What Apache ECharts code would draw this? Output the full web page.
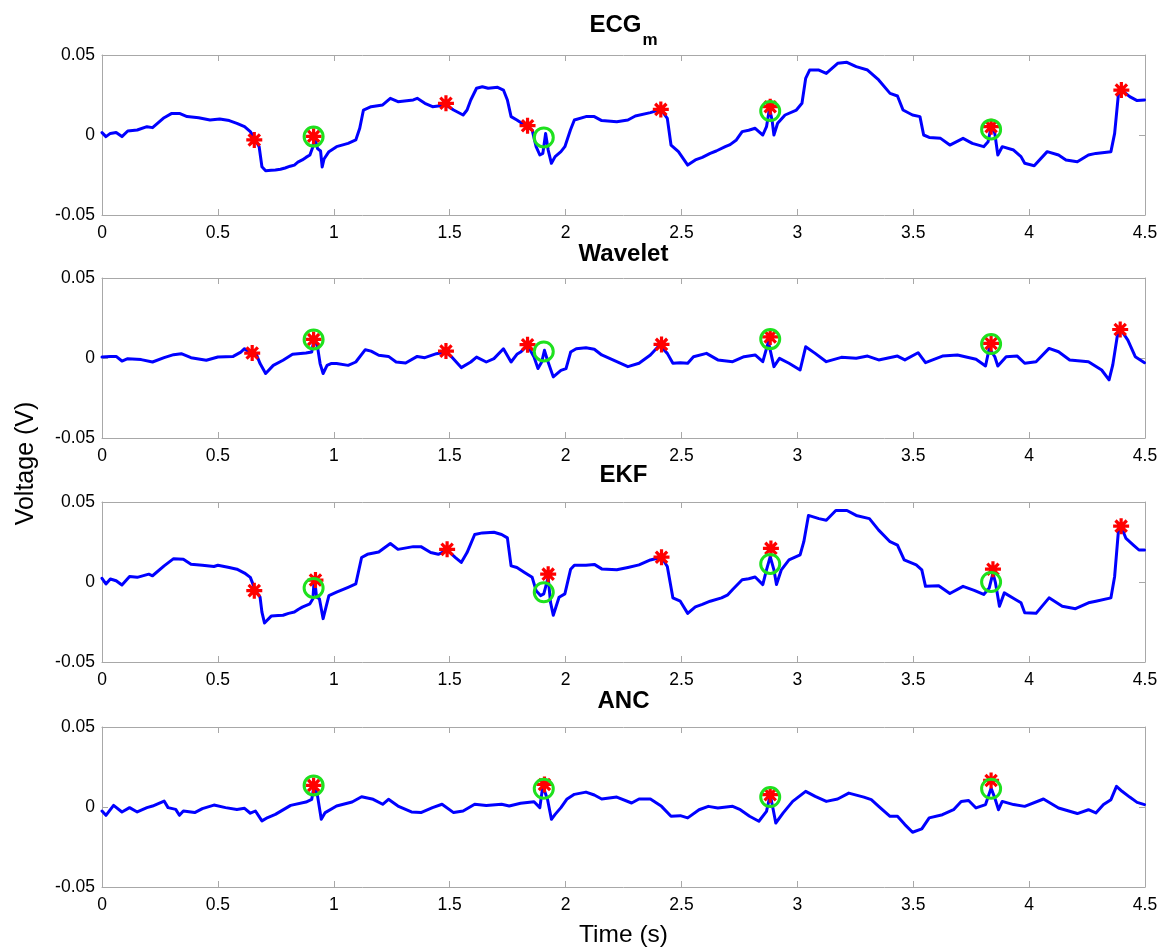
<!DOCTYPE html>
<html>
<head>
<meta charset="utf-8">
<title>ECG QRS detection comparison</title>
<script src="https://cdn.jsdelivr.net/npm/echarts@6.0.0/dist/echarts.min.js"></script>
<style>
  html, body { margin: 0; padding: 0; background: #ffffff; }
  #chart { width: 1167px; height: 948px; }
</style>
</head>
<body>
<div id="chart"></div>
<script>
// ---- Data: [time (s), voltage (V)] ----
const ecgSignal = [
  [0.000,0.0015],[0.017,-0.0010],[0.036,0.0010],[0.061,0.0015],[0.086,-0.0010],[0.111,0.0025],
  [0.152,0.0031],[0.194,0.0052],[0.218,0.0046],[0.268,0.0108],[0.301,0.0135],[0.334,0.0135],
  [0.367,0.0115],[0.417,0.0108],[0.466,0.0094],[0.508,0.0100],[0.549,0.0090],[0.582,0.0073],
  [0.615,0.0052],[0.640,0.0021],[0.662,-0.0031],[0.678,-0.0073],[0.690,-0.0198],[0.706,-0.0223],
  [0.730,-0.0221],[0.748,-0.0219],[0.770,-0.0214],[0.790,-0.0206],[0.797,-0.0208],[0.812,-0.0195],
  [0.830,-0.0188],[0.845,-0.0170],[0.864,-0.0156],[0.880,-0.0140],[0.897,-0.0125],[0.910,-0.0073],
  [0.916,-0.0006],[0.930,-0.0085],[0.943,-0.0100],[0.950,-0.0200],[0.958,-0.0150],[0.979,-0.0104],
  [1.012,-0.0073],[1.062,-0.0052],[1.095,-0.0031],[1.112,0.0042],[1.128,0.0156],[1.161,0.0177],
  [1.211,0.0188],[1.244,0.0229],[1.277,0.0208],[1.343,0.0219],[1.360,0.0229],[1.393,0.0198],
  [1.426,0.0177],[1.484,0.0188],[1.517,0.0156],[1.558,0.0125],[1.575,0.0156],[1.591,0.0219],
  [1.616,0.0292],[1.641,0.0302],[1.666,0.0292],[1.707,0.0298],[1.732,0.0281],[1.749,0.0219],
  [1.765,0.0115],[1.790,0.0094],[1.823,0.0063],[1.856,0.0031],[1.873,-0.0073],[1.889,-0.0125],
  [1.902,-0.0115],[1.914,0.0010],[1.925,-0.0094],[1.939,-0.0177],[1.955,-0.0135],[1.980,-0.0104],
  [1.997,-0.0073],[2.021,0.0031],[2.038,0.0094],[2.088,0.0115],[2.124,0.0115],[2.156,0.0090],
  [2.221,0.0083],[2.269,0.0094],[2.301,0.0119],[2.366,0.0140],[2.411,0.0160],[2.439,0.0104],
  [2.455,-0.0063],[2.487,-0.0104],[2.527,-0.0188],[2.560,-0.0156],[2.590,-0.0140],[2.624,-0.0115],
  [2.650,-0.0100],[2.689,-0.0073],[2.710,-0.0060],[2.737,-0.0031],[2.762,0.0021],[2.790,0.0030],
  [2.818,0.0042],[2.835,0.0020],[2.851,0.0000],[2.867,0.0052],[2.880,0.0167],
  [2.891,0.0094],[2.899,0.0000],[2.915,0.0073],[2.947,0.0125],[2.996,0.0156],[3.020,0.0198],
  [3.036,0.0354],[3.053,0.0406],[3.093,0.0406],[3.125,0.0385],[3.174,0.0448],[3.214,0.0454],
  [3.254,0.0427],[3.303,0.0406],[3.351,0.0344],[3.400,0.0260],[3.432,0.0244],[3.456,0.0156],
  [3.497,0.0125],[3.529,0.0115],[3.545,0.0000],[3.569,-0.0015],[3.618,-0.0021],[3.658,-0.0063],
  [3.715,-0.0021],[3.755,-0.0052],[3.804,-0.0073],[3.823,-0.0042],[3.836,0.0052],[3.852,0.0010],
  [3.865,-0.0125],[3.884,-0.0073],[3.933,-0.0094],[3.965,-0.0135],[3.981,-0.0177],[4.022,-0.0192],
  [4.078,-0.0104],[4.127,-0.0125],[4.159,-0.0156],[4.208,-0.0167],[4.256,-0.0125],[4.288,-0.0115],
  [4.353,-0.0104],[4.369,0.0010],[4.385,0.0250],[4.398,0.0281],[4.434,0.0240],[4.466,0.0215],
  [4.498,0.0219]
];
const ecgStars   = [[0.657,-0.0031],[0.913,-0.0008],[1.484,0.0198],[1.836,0.0058],[2.411,0.0160],[2.883,0.0177],[3.836,0.0052],[4.398,0.0281]];
const ecgCircles = [[0.913,-0.0010],[1.906,-0.0015],[2.883,0.0150],[3.836,0.0035]];

const waveletSignal = [
  [0.000,0.0006],[0.036,0.0010],[0.061,0.0010],[0.086,-0.0019],[0.111,-0.0004],[0.169,-0.0010],
  [0.218,-0.0025],[0.268,0.0002],[0.309,0.0021],[0.342,0.0027],[0.384,0.0002],[0.450,-0.0014],
  [0.500,0.0006],[0.566,0.0010],[0.599,0.0037],[0.615,0.0058],[0.640,0.0031],[0.665,0.0027],
  [0.682,-0.0035],[0.706,-0.0097],[0.739,-0.0046],[0.781,-0.0014],[0.822,0.0023],[0.880,0.0031],
  [0.905,0.0037],[0.916,0.0130],[0.930,0.0068],[0.941,-0.0035],[0.954,-0.0097],[0.971,-0.0046],
  [0.988,-0.0035],[1.012,-0.0035],[1.062,-0.0046],[1.095,-0.0025],[1.136,0.0052],[1.161,0.0043],
  [1.194,0.0017],[1.236,0.0010],[1.269,-0.0025],[1.310,-0.0031],[1.360,0.0010],[1.393,0.0002],
  [1.443,0.0027],[1.484,0.0037],[1.509,0.0006],[1.550,-0.0060],[1.591,-0.0025],[1.616,0.0006],
  [1.658,-0.0025],[1.691,-0.0004],[1.732,0.0058],[1.765,-0.0025],[1.790,0.0023],[1.806,0.0037],
  [1.836,0.0079],[1.864,0.0006],[1.881,-0.0066],[1.897,-0.0025],[1.909,0.0048],[1.922,-0.0014],
  [1.947,-0.0118],[1.980,-0.0077],[2.002,-0.0066],[2.022,0.0037],[2.046,0.0058],[2.088,0.0064],
  [2.124,0.0055],[2.156,0.0019],[2.221,-0.0023],[2.269,-0.0054],[2.317,-0.0033],[2.366,0.0019],
  [2.406,0.0081],[2.439,0.0029],[2.463,-0.0033],[2.495,-0.0029],[2.527,-0.0033],[2.552,0.0008],
  [2.608,0.0029],[2.657,-0.0012],[2.721,-0.0023],[2.770,0.0008],[2.818,0.0019],[2.851,-0.0023],
  [2.875,0.0101],[2.899,-0.0054],[2.923,-0.0002],[2.964,-0.0033],[3.012,-0.0075],[3.036,0.0070],
  [3.077,0.0029],[3.125,-0.0023],[3.190,0.0004],[3.254,-0.0002],[3.303,0.0012],[3.351,-0.0012],
  [3.432,0.0012],[3.464,-0.0012],[3.521,0.0033],[3.553,-0.0029],[3.626,0.0012],[3.691,0.0019],
  [3.771,-0.0008],[3.812,-0.0050],[3.828,0.0060],[3.852,0.0008],[3.865,-0.0050],[3.901,0.0008],
  [3.949,0.0012],[3.981,-0.0033],[4.030,-0.0023],[4.086,0.0060],[4.127,0.0039],[4.175,-0.0012],
  [4.256,-0.0023],[4.313,-0.0075],[4.345,-0.0137],[4.361,-0.0043],[4.380,0.0133],[4.397,0.0174],
  [4.426,0.0112],[4.458,0.0008],[4.498,-0.0029]
];
const waveletStars   = [[0.648,0.0031],[0.913,0.0116],[1.484,0.0043],[1.836,0.0083],[2.414,0.0085],[2.883,0.0132],[3.836,0.0091],[4.393,0.0178]];
const waveletCircles = [[0.913,0.0116],[1.906,0.0041],[2.883,0.0118],[3.836,0.0087]];

const ekfSignal = [
  [0.000,0.0023],[0.017,-0.0012],[0.036,0.0019],[0.061,0.0008],[0.086,-0.0019],[0.119,0.0035],
  [0.152,0.0029],[0.202,0.0049],[0.218,0.0039],[0.268,0.0101],[0.309,0.0146],[0.351,0.0142],
  [0.384,0.0111],[0.433,0.0105],[0.483,0.0097],[0.500,0.0105],[0.549,0.0091],[0.582,0.0080],
  [0.615,0.0056],[0.640,0.0029],[0.662,-0.0054],[0.682,-0.0095],[0.690,-0.0188],[0.701,-0.0256],
  [0.731,-0.0212],[0.760,-0.0210],[0.781,-0.0208],[0.805,-0.0196],[0.830,-0.0188],[0.848,-0.0170],
  [0.864,-0.0157],[0.897,-0.0136],[0.910,-0.0105],
  [0.916,0.0029],[0.926,-0.0095],[0.938,-0.0105],[0.954,-0.0229],[0.979,-0.0085],[1.012,-0.0064],
  [1.062,-0.0033],[1.095,-0.0012],[1.120,0.0153],[1.145,0.0173],[1.194,0.0188],[1.244,0.0241],
  [1.277,0.0204],[1.343,0.0221],[1.376,0.0221],[1.418,0.0184],[1.451,0.0173],[1.489,0.0200],
  [1.525,0.0153],[1.550,0.0122],[1.575,0.0184],[1.608,0.0297],[1.641,0.0307],[1.691,0.0311],
  [1.724,0.0297],[1.749,0.0276],[1.765,0.0101],[1.790,0.0091],[1.823,0.0060],[1.856,0.0029],
  [1.873,-0.0054],[1.892,-0.0085],[1.906,-0.0074],[1.925,0.0029],[1.935,-0.0126],[1.947,-0.0208],
  [1.972,-0.0095],[1.997,-0.0074],[2.022,0.0080],[2.038,0.0105],[2.088,0.0105],[2.124,0.0110],
  [2.156,0.0082],[2.221,0.0076],[2.269,0.0091],[2.317,0.0107],[2.366,0.0138],[2.414,0.0155],
  [2.439,0.0097],[2.463,-0.0099],[2.495,-0.0120],[2.527,-0.0196],[2.560,-0.0155],[2.590,-0.0140],
  [2.624,-0.0120],[2.673,-0.0099],[2.700,-0.0080],[2.721,-0.0047],[2.762,0.0014],[2.790,0.0020],
  [2.818,0.0031],[2.851,-0.0016],[2.867,0.0076],
  [2.883,0.0159],[2.899,0.0076],[2.910,-0.0016],[2.931,0.0076],[2.964,0.0138],[3.012,0.0169],
  [3.028,0.0252],[3.048,0.0416],[3.093,0.0396],[3.125,0.0386],[3.166,0.0447],[3.214,0.0447],
  [3.254,0.0416],[3.311,0.0396],[3.351,0.0324],[3.400,0.0252],[3.432,0.0231],[3.461,0.0138],
  [3.513,0.0107],[3.537,0.0076],[3.553,-0.0027],[3.610,-0.0023],[3.658,-0.0072],[3.715,-0.0027],
  [3.763,-0.0052],[3.804,-0.0078],[3.828,-0.0037],[3.844,0.0056],[3.855,-0.0006],[3.872,-0.0151],
  [3.893,-0.0068],[3.941,-0.0109],[3.965,-0.0130],[3.981,-0.0192],[4.030,-0.0196],[4.086,-0.0099],
  [4.143,-0.0151],[4.200,-0.0167],[4.256,-0.0130],[4.288,-0.0120],[4.353,-0.0099],[4.369,0.0035],
  [4.385,0.0313],[4.398,0.0344],[4.418,0.0272],[4.450,0.0231],[4.474,0.0200],[4.498,0.0200]
];
const ekfStars   = [[0.657,-0.0054],[0.921,0.0012],[1.489,0.0204],[1.925,0.0049],[2.414,0.0155],[2.886,0.0210],[3.844,0.0080],[4.397,0.0349]];
const ekfCircles = [[0.913,-0.0037],[1.906,-0.0064],[2.883,0.0113],[3.836,0.0000]];

const ancSignal = [
  [0.000,-0.0025],[0.017,-0.0052],[0.050,0.0010],[0.086,-0.0031],[0.119,-0.0004],[0.152,-0.0031],
  [0.194,-0.0004],[0.218,0.0006],[0.268,0.0037],[0.285,-0.0004],[0.318,-0.0015],[0.334,-0.0052],
  [0.351,-0.0025],[0.400,-0.0035],[0.433,-0.0010],[0.483,0.0012],[0.533,-0.0004],[0.582,-0.0015],
  [0.615,-0.0008],[0.640,-0.0039],[0.662,-0.0025],[0.690,-0.0087],[0.715,-0.0066],[0.748,-0.0046],
  [0.814,0.0010],[0.880,0.0031],[0.905,0.0048],[0.916,0.0141],[0.930,0.0068],[0.946,-0.0077],
  [0.963,-0.0035],[1.012,0.0006],[1.079,0.0031],[1.120,0.0064],[1.170,0.0048],[1.211,0.0017],
  [1.236,0.0048],[1.277,0.0006],[1.335,-0.0031],[1.376,-0.0035],[1.426,-0.0004],[1.467,0.0017],
  [1.517,-0.0035],[1.558,-0.0025],[1.608,0.0017],[1.658,0.0010],[1.724,0.0017],[1.757,0.0006],
  [1.806,0.0023],[1.864,0.0033],[1.889,-0.0004],[1.902,0.0131],[1.922,0.0048],[1.939,-0.0077],
  [1.955,-0.0046],[1.980,-0.0004],[2.005,0.0048],[2.038,0.0079],[2.088,0.0093],[2.124,0.0075],
  [2.156,0.0050],[2.221,0.0062],[2.285,0.0025],[2.317,0.0050],[2.366,0.0050],[2.414,0.0004],
  [2.455,-0.0058],[2.495,-0.0054],[2.527,-0.0068],[2.576,-0.0017],[2.616,0.0004],[2.657,-0.0006],
  [2.721,0.0004],[2.754,-0.0017],[2.794,-0.0058],[2.834,-0.0089],[2.867,-0.0027],[2.883,0.0077],
  [2.896,-0.0017],[2.907,-0.0100],[2.939,-0.0037],[2.980,0.0035],[3.036,0.0098],[3.077,0.0066],
  [3.125,0.0035],[3.174,0.0050],[3.222,0.0087],[3.287,0.0062],[3.319,0.0046],[3.351,0.0004],
  [3.400,-0.0058],[3.432,-0.0058],[3.464,-0.0110],[3.497,-0.0158],[3.537,-0.0137],[3.569,-0.0068],
  [3.626,-0.0048],[3.674,-0.0017],[3.707,0.0035],[3.739,0.0041],[3.771,-0.0006],[3.812,0.0015],
  [3.836,0.0118],[3.852,0.0056],[3.868,-0.0017],[3.884,0.0035],[3.933,0.0015],[3.981,0.0004],
  [4.062,0.0050],[4.127,-0.0006],[4.208,-0.0041],[4.256,-0.0017],[4.288,-0.0037],[4.321,0.0015],
  [4.353,0.0046],[4.377,0.0129],[4.401,0.0098],[4.434,0.0062],[4.466,0.0029],[4.498,0.0015]
];
const ancStars   = [[0.913,0.0135],[1.909,0.0141],[2.883,0.0077],[3.836,0.0166]];
const ancCircles = [[0.913,0.0135],[1.906,0.0114],[2.883,0.0062],[3.836,0.0114]];

const panelTitles = ['{a|ECG}{b|m}', 'Wavelet', 'EKF', 'ANC'];
const timeRange = [0, 4.5];
const timeStep = 0.5;
const voltRange = [-0.05, 0.05];
const voltStep = 0.05;

// ---- Layout ----
const FONT = "'Liberation Sans', Arial, Helvetica, sans-serif";
const GRID_LEFT = 102, GRID_RIGHT = 22, GRID_HEIGHT = 160;
const gridTops = [55, 278, 502, 727];
const titleTops = [13, 242.5, 463.5, 689.5];
const PLOT_CENTER_X = GRID_LEFT + (1167 - GRID_LEFT - GRID_RIGHT) / 2;
const BOX = '#a8a8a8';

const panels = [
  { signal: ecgSignal, stars: ecgStars, circles: ecgCircles },
  { signal: waveletSignal, stars: waveletStars, circles: waveletCircles },
  { signal: ekfSignal, stars: ekfStars, circles: ekfCircles },
  { signal: ancSignal, stars: ancStars, circles: ancCircles }
];

// MATLAB-style '*' marker: plus and cross of equal spoke length
const ASTERISK = 'path://M0 10 L20 10 M10 0 L10 20 M2.93 2.93 L17.07 17.07 M17.07 2.93 L2.93 17.07';

const grids = [], xAxes = [], yAxes = [], series = [], titles = [];

panels.forEach((p, i) => {
  grids.push({ left: GRID_LEFT, right: GRID_RIGHT, top: gridTops[i], height: GRID_HEIGHT, containLabel: false });

  const xBase = {
    type: 'value', gridIndex: i, min: timeRange[0], max: timeRange[1], interval: timeStep,
    axisLine: { show: true, onZero: false, lineStyle: { color: BOX, width: 1 } },
    axisTick: { show: true, inside: true, length: 6, lineStyle: { color: BOX, width: 1 } },
    splitLine: { show: false }
  };
  xAxes.push(Object.assign({}, xBase, {
    position: 'bottom',
    axisLabel: { show: true, color: '#000', fontFamily: FONT, fontSize: 17.5, margin: 9,
                 showMinLabel: true, showMaxLabel: true }
  }));
  xAxes.push(Object.assign({}, xBase, { position: 'top', axisLabel: { show: false } }));

  const yBase = {
    type: 'value', gridIndex: i, min: voltRange[0], max: voltRange[1], interval: voltStep,
    axisLine: { show: true, onZero: false, lineStyle: { color: BOX, width: 1 } },
    axisTick: { show: true, inside: true, length: 6, lineStyle: { color: BOX, width: 1 } },
    splitLine: { show: false }
  };
  yAxes.push(Object.assign({}, yBase, {
    position: 'left',
    axisLabel: { show: true, color: '#000', fontFamily: FONT, fontSize: 17.5, margin: 7,
                 showMinLabel: true, showMaxLabel: true,
                 formatter: v => String(Math.round(v * 100) / 100) }
  }));
  yAxes.push(Object.assign({}, yBase, { position: 'right', axisLabel: { show: false } }));

  const xi = i * 2, yi = i * 2;
  series.push({
    type: 'line', xAxisIndex: xi, yAxisIndex: yi, data: p.signal,
    showSymbol: false, symbol: 'none', silent: true, z: 2,
    lineStyle: { color: '#0000ff', width: 3, join: 'round', cap: 'round' }
  });
  series.push({
    type: 'scatter', xAxisIndex: xi, yAxisIndex: yi, data: p.stars,
    symbol: ASTERISK, symbolSize: 16, silent: true, z: 3,
    itemStyle: { color: 'rgba(0,0,0,0)', borderColor: '#ff0000', borderWidth: 3.2, opacity: 1 }
  });
  series.push({
    type: 'scatter', xAxisIndex: xi, yAxisIndex: yi, data: p.circles,
    symbol: 'circle', symbolSize: 19, silent: true, z: 4,
    itemStyle: { color: 'rgba(0,0,0,0)', borderColor: '#1ee11e', borderWidth: 3, opacity: 1 }
  });

  titles.push({
    text: panelTitles[i], left: PLOT_CENTER_X, top: titleTops[i], textAlign: 'center',
    padding: 0,
    textStyle: {
      fontFamily: FONT, fontSize: 24, fontWeight: 'bold', color: '#000', lineHeight: 24,
      rich: {
        a: { fontFamily: FONT, fontSize: 24, fontWeight: 'bold', color: '#000', lineHeight: 24, verticalAlign: 'top' },
        b: { fontFamily: FONT, fontSize: 17, fontWeight: 'bold', color: '#000', lineHeight: 17, verticalAlign: 'top', padding: [19, 0, 0, 1] }
      }
    }
  });
});

const chart = echarts.init(document.getElementById('chart'), null, { renderer: 'canvas' });
chart.setOption({
  animation: false,
  backgroundColor: '#ffffff',
  title: titles,
  grid: grids,
  xAxis: xAxes,
  yAxis: yAxes,
  series: series,
  graphic: [
    { type: 'text', x: 26, y: 463.5, rotation: Math.PI / 2, silent: true,
      style: { text: 'Voltage (V)', fontFamily: FONT, fontSize: 25, fill: '#000', align: 'center', verticalAlign: 'middle' } },
    { type: 'text', x: PLOT_CENTER_X, y: 935.5, silent: true,
      style: { text: 'Time (s)', fontFamily: FONT, fontSize: 24.5, fill: '#000', align: 'center', verticalAlign: 'middle' } }
  ]
});
</script>
</body>
</html>
